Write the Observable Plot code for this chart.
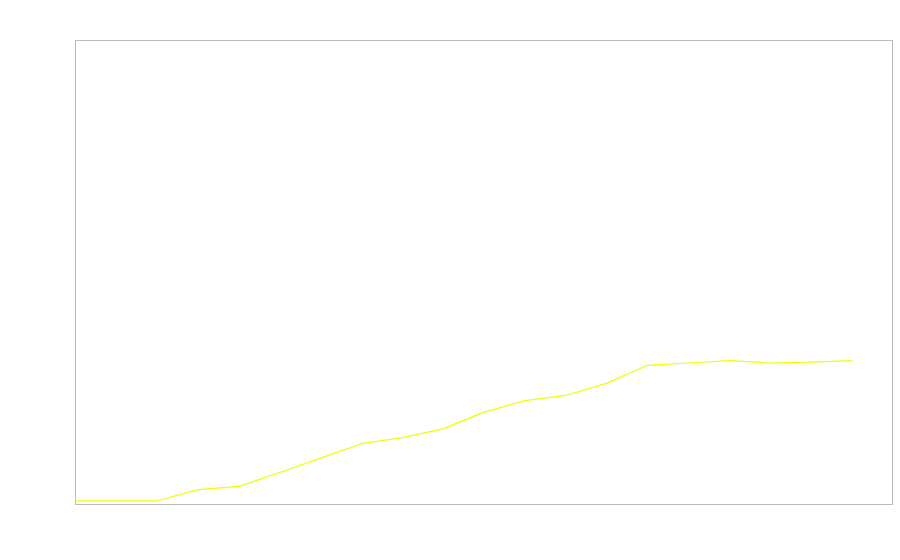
<!DOCTYPE html>
<html>
<head>
<meta charset="utf-8">
<script src="https://cdn.jsdelivr.net/npm/d3@7"></script>
<script src="https://cdn.jsdelivr.net/npm/@observablehq/plot@0.6"></script>
<style>
  html, body { margin: 0; padding: 0; background: #fff; }
  #chart { width: 900px; height: 560px; }
</style>
</head>
<body>
<div id="chart"></div>
<script>
const steps = [0, 1, 2, 3, 4, 5, 6, 7, 8, 9, 10, 11, 12, 13, 14, 15, 16, 17, 18, 19];
const values = [0.8, 0.8, 0.8, 3.2, 3.9, 6.9, 10.0, 13.1, 14.4, 16.3, 19.9, 22.4, 23.5, 26.1, 30.0, 30.5, 31.0, 30.5, 30.7, 31.0];

const data = steps.map((s, i) => ({step: s, value: values[i]}));

const chart = Plot.plot({
  width: 900,
  height: 560,
  marginLeft: 75,
  marginTop: 40,
  marginRight: 8,
  marginBottom: 56,
  x: {domain: [0, 20], axis: null},
  y: {domain: [0, 100], axis: null},
  marks: [
    Plot.frame({stroke: "#bbb"}),
    Plot.line(data, {x: "step", y: "value", stroke: "#eeff00", strokeWidth: 1.2})
  ]
});
document.getElementById("chart").appendChild(chart);
</script>
</body>
</html>
